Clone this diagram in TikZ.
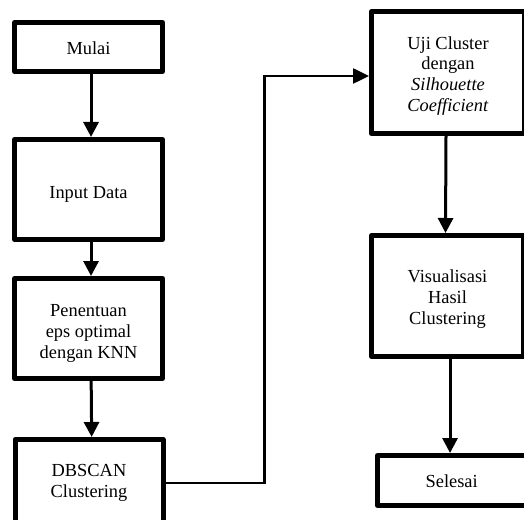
\documentclass[tikz,border=0pt]{standalone}
\usepackage{fontspec}
\setmainfont{Liberation Serif}
\usetikzlibrary{arrows.meta}
\begin{document}
\begin{tikzpicture}[x=0.75pt,y=-0.75pt,
  box/.style={draw=black,line width=3.75pt,line join=round,fill=white,inner sep=0pt},
  txt/.style={align=center,inner sep=0pt,font=\fontsize{13.8}{15.6}\selectfont},
  arr/.style={line width=2.25pt,-{Triangle[length=11.25pt,width=11.25pt]}},
  conn/.style={line width=1.9pt,line join=miter,-{Triangle[length=12pt,width=11.25pt]}}]
\useasboundingbox (0,0) rectangle (524,520);
\clip (0,0) rectangle (524,520);
% left column
\node[box,minimum width=111pt,minimum height=36.75pt] (mulai) at (88.5,47) {};
\node[box,minimum width=111pt,minimum height=75pt] (input) at (88.5,189.5) {};
\node[box,minimum width=111pt,minimum height=75pt] (pen) at (88.5,328.5) {};
\node[box,minimum width=111pt,minimum height=63.4pt] (db) at (89,481.75) {};
% right column
\node[box,minimum width=114.75pt,minimum height=91.5pt] (uji) at (448,72.5) {};
\node[box,minimum width=114pt,minimum height=90.75pt] (vis) at (447.5,296) {};
\node[box,minimum width=112.9pt,minimum height=37.5pt] (sel) at (452.75,480.5) {};
% texts
\node[txt] (mulaiT) at ([yshift=-0.75pt]mulai.center) {Mulai};
\node[txt] (inputT) at ([yshift=-3.5pt]input.center) {Input Data};
\node[txt] (penT) at ([yshift=-3.8pt]pen.center) {Penentuan\\eps optimal\\dengan KNN};
\node[txt] (dbT) at ([yshift=-0.75pt]db.center) {DBSCAN\\Clustering};
\node[txt] (ujiT) at ([yshift=-2.5pt]uji.center) {Uji Cluster\\dengan\\\textit{Silhouette}\\\textit{Coefficient}};
\node[txt] (visT) at ([yshift=-2.2pt]vis.center) {Visualisasi\\Hasil\\Clustering};
\node[txt] (selT) at ([xshift=-0.8pt,yshift=-0.75pt]sel.center) {Selesai};
% arrows
\draw[arr] ([xshift=1.9pt]mulai.south) -- ([xshift=1.9pt]input.north);
\draw[arr] ([xshift=1.9pt]input.south) -- ([xshift=1.9pt]pen.north);
\draw[arr] ([xshift=2pt]pen.south) -- ([xshift=2pt]db.north);
\draw[arr] ([xshift=-1.5pt]uji.south) -- ([xshift=-1.5pt]vis.north);
\draw[arr] ([xshift=1.9pt]vis.south) -- ([xshift=1.9pt]vis.south |- sel.north);
\coordinate (k1) at (264.5,483);
\coordinate (k2) at (264.5,76);
\draw[conn] (db.east |- k1) -- (k1) -- (k2) -- (uji.west |- k2);
\end{tikzpicture}
\end{document}
